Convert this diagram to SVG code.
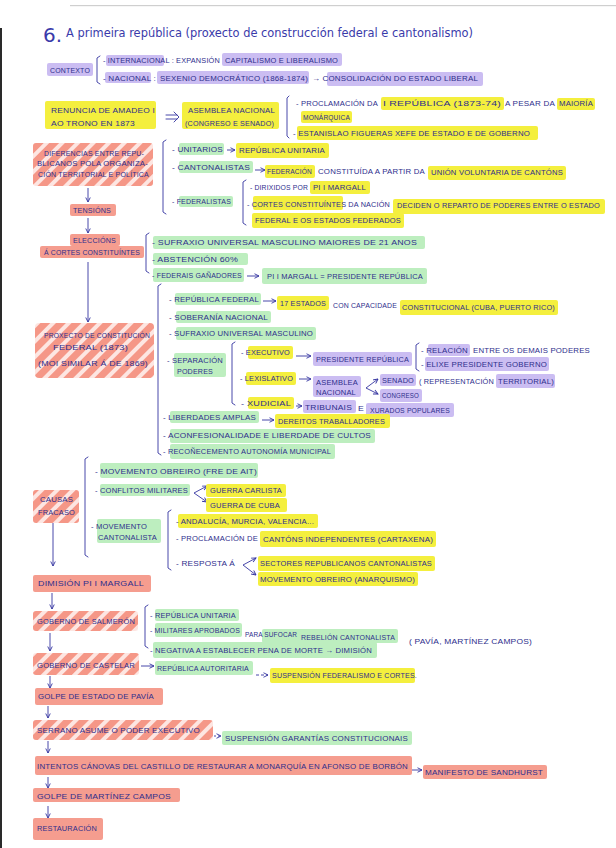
<svg xmlns="http://www.w3.org/2000/svg" width="616" height="848" viewBox="0 0 616 848">
<defs>
<style>
.t{font-family:"Liberation Sans",Arial,sans-serif;font-size:8px;fill:#2e2e8c;letter-spacing:0.2px}
.ti{font-family:"DejaVu Sans","Liberation Sans",sans-serif;fill:#3a3aaa}
.y{fill:#f4ef3e}
.g{fill:#bdeebf}
.p{fill:#cbbdf2}
.r{fill:#f59d8f}
.h{fill:url(#hatch)}
.ln{stroke:#3434a0;stroke-width:0.9;fill:none;stroke-linecap:round}
.ar{stroke:#3434a0;stroke-width:0.9;fill:none;marker-end:url(#ah)}
</style>
<pattern id="hatch" patternUnits="userSpaceOnUse" width="11" height="11" patternTransform="rotate(45)">
<rect width="11" height="11" fill="#f59787"/>
<rect x="0" y="0" width="4" height="11" fill="#fde6e2"/>
</pattern>
<marker id="ah" viewBox="0 0 8 8" refX="7" refY="4" markerWidth="6" markerHeight="6" orient="auto" markerUnits="userSpaceOnUse">
<path d="M1,1 L7,4 L1,7" fill="none" stroke="#3434a0" stroke-width="1.2"/>
</marker>
</defs>
<rect width="616" height="848" fill="#ffffff"/>
<rect x="70" y="5" width="546" height="1.2" fill="#cfcfcf"/>
<rect x="0" y="28" width="2" height="820" fill="#2a2a2a"/>

<g id="title">
<text class="ti" x="43" y="42" font-size="20">6.</text>
<text class="ti" x="66" y="37" font-size="13" textLength="407" lengthAdjust="spacingAndGlyphs">A primeira república (proxecto de construcción federal e cantonalismo)</text>
</g>

<g id="connectors">
<path class="ln" d="M100,56 L97,58 L97,82 L100,84"/>
<path class="ln" d="M289,96 L287,98 L287,136 L289,138"/>
<path class="ln" d="M166,140 L163,142 L163,212 L166,214"/>
<path class="ln" d="M246,180 L243,182 L243,223 L246,225"/>
<path class="ln" d="M149,233 L146,235 L146,271 L149,273"/>
<path class="ln" d="M161,284 L158,286 L158,453 L161,455"/>
<path class="ln" d="M235,342 L232,344 L232,403 L235,405"/>
<path class="ln" d="M419,343 L416,345 L416,369 L419,371"/>
<path class="ln" d="M88,457 L85,459 L85,555 L88,557"/>
<path class="ln" d="M171,510 L168,512 L168,568 L171,570"/>
<path class="ln" d="M148,605 L145,607 L145,646 L148,648"/>
<path class="ln" d="M166,115 L177,115 M166,119 L177,119 M174,112 L179,117 L174,122"/>
<path class="ar" d="M88,188 L88,202"/>
<path class="ar" d="M88,218 L88,233"/>
<path class="ar" d="M88,262 L88,322"/>
<path class="ar" d="M53,523 L53,566"/>
<path class="ar" d="M52,593 L52,609"/>
<path class="ar" d="M50,633 L50,651"/>
<path class="ar" d="M50,676 L50,688"/>
<path class="ar" d="M48,706 L48,718"/>
<path class="ar" d="M48,741 L48,753"/>
<path class="ar" d="M48,777 L48,788"/>
<path class="ar" d="M48,806 L48,818"/>
<path class="ar" d="M227,150 L235,150"/>
<path class="ar" d="M255,170 L265,170"/>
<path class="ar" d="M247,276 L259,276"/>
<path class="ar" d="M263,301 L276,301"/>
<path class="ar" d="M296,356 L311,356"/>
<path class="ar" d="M299,379 L311,379"/>
<path class="ar" d="M296,406 L302,406"/>
<path class="ar" d="M262,420 L274,420"/>
<path class="ar" d="M141,666 L154,666"/>
<path class="ar" d="M256,675 L268,675" stroke-dasharray="3,2"/>
<path class="ar" d="M206,736 L221,736" stroke-dasharray="2,2"/>
<path class="ar" d="M410,770 L422,770"/>
<path class="ar" d="M366,388 L378,379"/>
<path class="ar" d="M366,388 L378,394"/>
<path class="ar" d="M194,493 L207,486"/>
<path class="ar" d="M194,493 L207,502"/>
<path class="ar" d="M243,565 L256,558"/>
<path class="ar" d="M243,565 L256,575"/>
</g>

<g id="contexto">
<rect class="p" x="47" y="63" width="46" height="13" rx="2"/>
<text class="t" x="50" y="73" textLength="40" lengthAdjust="spacingAndGlyphs">CONTEXTO</text>
</g>
<g id="internacional">
<rect class="p" x="106" y="55" width="58" height="11" rx="2"/>
<rect class="p" x="222" y="53" width="120" height="13" rx="2"/>
<text class="t" x="103" y="63" textLength="117" lengthAdjust="spacingAndGlyphs">- INTERNACIONAL : EXPANSIÓN</text>
<text class="t" x="225" y="63" textLength="113" lengthAdjust="spacingAndGlyphs">CAPITALISMO E LIBERALISMO</text>
</g>
<g id="nacional">
<rect class="p" x="105" y="72" width="46" height="11" rx="2"/>
<rect class="p" x="157" y="71" width="152" height="13" rx="2"/>
<rect class="p" x="327" y="72" width="156" height="14" rx="2"/>
<text class="t" x="103" y="81" textLength="53" lengthAdjust="spacingAndGlyphs">- NACIONAL :</text>
<text class="t" x="160" y="81" textLength="148" lengthAdjust="spacingAndGlyphs">SEXENIO DEMOCRÁTICO (1868-1874)</text>
<text class="t" x="312" y="81" textLength="166" lengthAdjust="spacingAndGlyphs">→ CONSOLIDACIÓN DO ESTADO LIBERAL</text>
</g>

<g id="renuncia">
<rect class="y" x="45" y="101" width="111" height="28" rx="2"/>
<text class="t" x="51" y="113" textLength="104" lengthAdjust="spacingAndGlyphs">RENUNCIA DE AMADEO I</text>
<text class="t" x="51" y="126" textLength="84" lengthAdjust="spacingAndGlyphs">AO TRONO EN 1873</text>
</g>
<g id="asemblea">
<rect class="y" x="182" y="102" width="97" height="27" rx="2"/>
<text class="t" x="188" y="113" textLength="87" lengthAdjust="spacingAndGlyphs">ASEMBLEA NACIONAL</text>
<text class="t" x="185" y="126" textLength="89" lengthAdjust="spacingAndGlyphs">(CONGRESO E SENADO)</text>
</g>
<g id="proclamacion">
<rect class="y" x="381" y="97" width="123" height="13" rx="2"/>
<rect class="y" x="557" y="98" width="38" height="12" rx="2"/>
<rect class="y" x="301" y="111" width="51" height="12" rx="2"/>
<text class="t" x="296" y="106" textLength="82" lengthAdjust="spacingAndGlyphs">- PROCLAMACIÓN DA</text>
<text class="t" x="383" y="106" textLength="118" lengthAdjust="spacingAndGlyphs">I REPÚBLICA (1873-74)</text>
<text class="t" x="505" y="106" textLength="50" lengthAdjust="spacingAndGlyphs">A PESAR DA</text>
<text class="t" x="559" y="106" textLength="34" lengthAdjust="spacingAndGlyphs">MAIORÍA</text>
<text class="t" x="303" y="120" textLength="47" lengthAdjust="spacingAndGlyphs">MONÁRQUICA</text>
</g>
<g id="figueras">
<rect class="y" x="297" y="126" width="241" height="14" rx="2"/>
<text class="t" x="293" y="136" textLength="237" lengthAdjust="spacingAndGlyphs">- ESTANISLAO FIGUERAS XEFE DE ESTADO E DE GOBERNO</text>
</g>

<g id="diferencias">
<rect class="h" x="33" y="143" width="120" height="43" rx="3"/>
<text class="t" x="44" y="156" textLength="100" lengthAdjust="spacingAndGlyphs">DIFERENCIAS ENTRE REPU-</text>
<text class="t" x="37" y="166" textLength="111" lengthAdjust="spacingAndGlyphs">BLICANOS POLA ORGANIZA-</text>
<text class="t" x="38" y="177" textLength="111" lengthAdjust="spacingAndGlyphs">CIÓN TERRITORIAL E POLÍTICA</text>
</g>
<g id="unitarios">
<rect class="g" x="179" y="143" width="45" height="12" rx="2"/>
<rect class="y" x="236" y="143" width="93" height="15" rx="2"/>
<text class="t" x="172" y="152" textLength="51" lengthAdjust="spacingAndGlyphs">- UNITARIOS</text>
<text class="t" x="239" y="153" textLength="86" lengthAdjust="spacingAndGlyphs">REPÚBLICA UNITARIA</text>
</g>
<g id="cantonalistas">
<rect class="g" x="179" y="161" width="74" height="12" rx="2"/>
<rect class="y" x="265" y="165" width="50" height="13" rx="2"/>
<rect class="y" x="428" y="166" width="138" height="14" rx="2"/>
<text class="t" x="172" y="170" textLength="78" lengthAdjust="spacingAndGlyphs">- CANTONALISTAS</text>
<text class="t" x="267" y="174" textLength="45" lengthAdjust="spacingAndGlyphs">FEDERACIÓN</text>
<text class="t" x="318" y="174" textLength="107" lengthAdjust="spacingAndGlyphs">CONSTITUÍDA A PARTIR DA</text>
<text class="t" x="431" y="175" textLength="132" lengthAdjust="spacingAndGlyphs">UNIÓN VOLUNTARIA DE CANTÓNS</text>
</g>
<g id="federalistas">
<rect class="g" x="179" y="196" width="54" height="11" rx="2"/>
<text class="t" x="172" y="204" textLength="59" lengthAdjust="spacingAndGlyphs">- FEDERALISTAS</text>
<rect class="y" x="310" y="181" width="60" height="13" rx="2"/>
<text class="t" x="250" y="190" textLength="58" lengthAdjust="spacingAndGlyphs">- DIRIXIDOS POR</text>
<text class="t" x="313" y="190" textLength="53" lengthAdjust="spacingAndGlyphs">PI I MARGALL</text>
<rect class="y" x="253" y="196" width="90" height="14" rx="2"/>
<rect class="y" x="393" y="199" width="212" height="15" rx="2"/>
<rect class="y" x="252" y="213" width="152" height="15" rx="2"/>
<text class="t" x="247" y="207" textLength="143" lengthAdjust="spacingAndGlyphs">- CORTES CONSTITUÍNTES DA NACIÓN</text>
<text class="t" x="397" y="208" textLength="203" lengthAdjust="spacingAndGlyphs">DECIDEN O REPARTO DE PODERES ENTRE O ESTADO</text>
<text class="t" x="255" y="223" textLength="146" lengthAdjust="spacingAndGlyphs">FEDERAL E OS ESTADOS FEDERADOS</text>
</g>

<g id="tensions">
<rect class="r" x="70" y="204" width="46" height="12" rx="2"/>
<text class="t" x="73" y="213" textLength="38" lengthAdjust="spacingAndGlyphs">TENSIÓNS</text>
</g>
<g id="eleccions">
<rect class="r" x="70" y="234" width="50" height="12" rx="2"/>
<rect class="r" x="40" y="246" width="104" height="12" rx="2"/>
<text class="t" x="73" y="243" textLength="43" lengthAdjust="spacingAndGlyphs">ELECCIÓNS</text>
<text class="t" x="44" y="255" textLength="96" lengthAdjust="spacingAndGlyphs">Á CORTES CONSTITUÍNTES</text>
</g>
<g id="sufraxio21">
<rect class="g" x="153" y="236" width="272" height="13" rx="2"/>
<text class="t" x="152" y="245" textLength="265" lengthAdjust="spacingAndGlyphs">- SUFRAXIO UNIVERSAL MASCULINO MAIORES DE 21 ANOS</text>
</g>
<g id="abstencion">
<rect class="g" x="153" y="253" width="95" height="12" rx="2"/>
<text class="t" x="152" y="262" textLength="86" lengthAdjust="spacingAndGlyphs">- ABSTENCIÓN 60%</text>
</g>
<g id="federais">
<rect class="g" x="153" y="268" width="91" height="14" rx="2"/>
<rect class="g" x="262" y="268" width="165" height="16" rx="2"/>
<text class="t" x="152" y="278" textLength="90" lengthAdjust="spacingAndGlyphs">- FEDERAIS GAÑADORES</text>
<text class="t" x="267" y="279" textLength="156" lengthAdjust="spacingAndGlyphs">PI I MARGALL = PRESIDENTE REPÚBLICA</text>
</g>

<g id="proxecto">
<rect class="h" x="35" y="323" width="119" height="55" rx="4"/>
<text class="t" x="44" y="338" textLength="106" lengthAdjust="spacingAndGlyphs">PROXECTO DE CONSTITUCIÓN</text>
<text class="t" x="53" y="350" textLength="75" lengthAdjust="spacingAndGlyphs">FEDERAL (1873)</text>
<text class="t" x="38" y="366" textLength="110" lengthAdjust="spacingAndGlyphs">(MOI SIMILAR Á DE 1869)</text>
</g>
<g id="republicafederal">
<rect class="g" x="175" y="293" width="86" height="12" rx="2"/>
<rect class="y" x="277" y="296" width="52" height="14" rx="2"/>
<rect class="y" x="400" y="300" width="158" height="15" rx="2"/>
<text class="t" x="169" y="302" textLength="90" lengthAdjust="spacingAndGlyphs">- REPÚBLICA FEDERAL</text>
<text class="t" x="280" y="306" textLength="46" lengthAdjust="spacingAndGlyphs">17 ESTADOS</text>
<text class="t" x="333" y="308" textLength="64" lengthAdjust="spacingAndGlyphs">CON CAPACIDADE</text>
<text class="t" x="402" y="310" textLength="153" lengthAdjust="spacingAndGlyphs">CONSTITUCIONAL (CUBA, PUERTO RICO)</text>
</g>
<g id="soberania">
<rect class="g" x="176" y="311" width="95" height="12" rx="2"/>
<text class="t" x="169" y="320" textLength="99" lengthAdjust="spacingAndGlyphs">- SOBERANÍA NACIONAL</text>
</g>
<g id="sufraxio">
<rect class="g" x="176" y="327" width="140" height="13" rx="2"/>
<text class="t" x="169" y="336" textLength="144" lengthAdjust="spacingAndGlyphs">- SUFRAXIO UNIVERSAL MASCULINO</text>
</g>
<g id="separacion">
<rect class="g" x="174" y="353" width="52" height="24" rx="2"/>
<text class="t" x="167" y="363" textLength="56" lengthAdjust="spacingAndGlyphs">- SEPARACIÓN</text>
<text class="t" x="177" y="374" textLength="36" lengthAdjust="spacingAndGlyphs">PODERES</text>
</g>
<g id="executivo">
<rect class="y" x="248" y="346" width="45" height="13" rx="2"/>
<text class="t" x="241" y="355" textLength="49" lengthAdjust="spacingAndGlyphs">- EXECUTIVO</text>
<rect class="p" x="313" y="352" width="99" height="14" rx="2"/>
<text class="t" x="316" y="362" textLength="93" lengthAdjust="spacingAndGlyphs">PRESIDENTE REPÚBLICA</text>
<rect class="p" x="428" y="344" width="42" height="12" rx="2"/>
<text class="t" x="421" y="353" textLength="47" lengthAdjust="spacingAndGlyphs">- RELACIÓN</text>
<text class="t" x="473" y="353" textLength="117" lengthAdjust="spacingAndGlyphs">ENTRE OS DEMAIS PODERES</text>
<rect class="p" x="425" y="357" width="124" height="14" rx="2"/>
<text class="t" x="421" y="367" textLength="126" lengthAdjust="spacingAndGlyphs">- ELIXE PRESIDENTE GOBERNO</text>
</g>
<g id="lexislativo">
<rect class="y" x="246" y="372" width="50" height="13" rx="2"/>
<text class="t" x="240" y="381" textLength="53" lengthAdjust="spacingAndGlyphs">- LEXISLATIVO</text>
<rect class="p" x="313" y="376" width="48" height="21" rx="2"/>
<text class="t" x="316" y="385" textLength="42" lengthAdjust="spacingAndGlyphs">ASEMBLEA</text>
<text class="t" x="316" y="395" textLength="40" lengthAdjust="spacingAndGlyphs">NACIONAL</text>
<rect class="p" x="380" y="374" width="36" height="12" rx="2"/>
<text class="t" x="382" y="383" textLength="32" lengthAdjust="spacingAndGlyphs">SENADO</text>
<rect class="p" x="496" y="374" width="59" height="14" rx="2"/>
<text class="t" x="419" y="384" textLength="75" lengthAdjust="spacingAndGlyphs">( REPRESENTACIÓN</text>
<text class="t" x="498" y="384" textLength="56" lengthAdjust="spacingAndGlyphs">TERRITORIAL)</text>
<rect class="p" x="380" y="389" width="42" height="13" rx="2"/>
<text class="t" x="382" y="398" textLength="37" lengthAdjust="spacingAndGlyphs">CONGRESO</text>
</g>
<g id="xudicial">
<rect class="y" x="248" y="397" width="46" height="12" rx="2"/>
<text class="t" x="241" y="406" textLength="50" lengthAdjust="spacingAndGlyphs">- XUDICIAL</text>
<rect class="p" x="303" y="400" width="53" height="13" rx="2"/>
<rect class="p" x="366" y="403" width="88" height="14" rx="2"/>
<text class="t" x="305" y="410" textLength="47" lengthAdjust="spacingAndGlyphs">TRIBUNAIS</text>
<text class="t" x="358" y="411" textLength="6" lengthAdjust="spacingAndGlyphs">E</text>
<text class="t" x="370" y="413" textLength="80" lengthAdjust="spacingAndGlyphs">XURADOS POPULARES</text>
</g>
<g id="liberdades">
<rect class="g" x="170" y="411" width="89" height="12" rx="2"/>
<rect class="y" x="275" y="414" width="115" height="14" rx="2"/>
<text class="t" x="163" y="420" textLength="93" lengthAdjust="spacingAndGlyphs">- LIBERDADES AMPLAS</text>
<text class="t" x="278" y="424" textLength="107" lengthAdjust="spacingAndGlyphs">DEREITOS TRABALLADORES</text>
</g>
<g id="aconfesionalidade">
<rect class="g" x="170" y="429" width="205" height="14" rx="2"/>
<text class="t" x="163" y="438" textLength="208" lengthAdjust="spacingAndGlyphs">- ACONFESIONALIDADE E LIBERDADE DE CULTOS</text>
</g>
<g id="autonomia">
<rect class="g" x="170" y="444" width="165" height="15" rx="2"/>
<text class="t" x="163" y="454" textLength="168" lengthAdjust="spacingAndGlyphs">- RECOÑECEMENTO AUTONOMÍA MUNICIPAL</text>
</g>

<g id="causas">
<rect class="h" x="33" y="490" width="46" height="33" rx="3"/>
<text class="t" x="40" y="502" textLength="33" lengthAdjust="spacingAndGlyphs">CAUSAS</text>
<text class="t" x="38" y="515" textLength="37" lengthAdjust="spacingAndGlyphs">FRACASO</text>
</g>
<g id="movobreiro">
<rect class="g" x="100" y="463" width="158" height="15" rx="2"/>
<text class="t" x="95" y="474" textLength="162" lengthAdjust="spacingAndGlyphs">- MOVEMENTO OBREIRO (FRE DE AIT)</text>
</g>
<g id="conflitos">
<rect class="g" x="100" y="484" width="90" height="12" rx="2"/>
<text class="t" x="95" y="493" textLength="93" lengthAdjust="spacingAndGlyphs">- CONFLITOS MILITARES</text>
<rect class="y" x="206" y="484" width="80" height="13" rx="2"/>
<text class="t" x="210" y="493" textLength="72" lengthAdjust="spacingAndGlyphs">GUERRA CARLISTA</text>
<rect class="y" x="206" y="498" width="81" height="14" rx="2"/>
<text class="t" x="210" y="508" textLength="70" lengthAdjust="spacingAndGlyphs">GUERRA DE CUBA</text>
</g>
<g id="movcantonalista">
<rect class="g" x="97" y="519" width="64" height="24" rx="2"/>
<text class="t" x="91" y="529" textLength="56" lengthAdjust="spacingAndGlyphs">- MOVEMENTO</text>
<text class="t" x="98" y="540" textLength="59" lengthAdjust="spacingAndGlyphs">CANTONALISTA</text>
<rect class="y" x="178" y="514" width="140" height="14" rx="2"/>
<text class="t" x="176" y="524" textLength="138" lengthAdjust="spacingAndGlyphs">- ANDALUCÍA, MURCIA, VALENCIA...</text>
<rect class="y" x="260" y="531" width="176" height="16" rx="2"/>
<text class="t" x="176" y="541" textLength="82" lengthAdjust="spacingAndGlyphs">- PROCLAMACIÓN DE</text>
<text class="t" x="263" y="542" textLength="170" lengthAdjust="spacingAndGlyphs">CANTÓNS INDEPENDENTES (CARTAXENA)</text>
<text class="t" x="176" y="566" textLength="59" lengthAdjust="spacingAndGlyphs">- RESPOSTA Á</text>
<rect class="y" x="258" y="556" width="177" height="15" rx="2"/>
<text class="t" x="260" y="566" textLength="172" lengthAdjust="spacingAndGlyphs">SECTORES REPUBLICANOS CANTONALISTAS</text>
<rect class="y" x="258" y="572" width="160" height="14" rx="2"/>
<text class="t" x="260" y="582" textLength="155" lengthAdjust="spacingAndGlyphs">MOVEMENTO OBREIRO (ANARQUISMO)</text>
</g>

<g id="dimision">
<rect class="r" x="33" y="575" width="118" height="17" rx="2"/>
<text class="t" x="38" y="586" textLength="106" lengthAdjust="spacingAndGlyphs">DIMISIÓN PI I MARGALL</text>
</g>
<g id="salmeron">
<rect class="h" x="33" y="611" width="105" height="20" rx="3"/>
<text class="t" x="37" y="624" textLength="98" lengthAdjust="spacingAndGlyphs">GOBERNO DE SALMERÓN</text>
<rect class="g" x="155" y="609" width="84" height="12" rx="2"/>
<text class="t" x="150" y="618" textLength="86" lengthAdjust="spacingAndGlyphs">- REPÚBLICA UNITARIA</text>
<rect class="g" x="155" y="623" width="87" height="14" rx="2"/>
<rect class="g" x="262" y="629" width="136" height="14" rx="2"/>
<text class="t" x="150" y="633" textLength="90" lengthAdjust="spacingAndGlyphs">- MILITARES APROBADOS</text>
<text class="t" x="245" y="637" textLength="52" lengthAdjust="spacingAndGlyphs">PARA SUFOCAR</text>
<text class="t" x="301" y="640" textLength="94" lengthAdjust="spacingAndGlyphs">REBELIÓN CANTONALISTA</text>
<text class="t" x="409" y="644" textLength="123" lengthAdjust="spacingAndGlyphs">( PAVÍA, MARTÍNEZ CAMPOS)</text>
<rect class="g" x="153" y="642" width="224" height="16" rx="2"/>
<text class="t" x="150" y="653" textLength="222" lengthAdjust="spacingAndGlyphs">- NEGATIVA A ESTABLECER PENA DE MORTE → DIMISIÓN</text>
</g>
<g id="castelar">
<rect class="h" x="33" y="653" width="106" height="22" rx="3"/>
<text class="t" x="37" y="668" textLength="98" lengthAdjust="spacingAndGlyphs">GOBERNO DE CASTELAR</text>
<rect class="g" x="155" y="661" width="98" height="14" rx="2"/>
<text class="t" x="157" y="671" textLength="92" lengthAdjust="spacingAndGlyphs">REPÚBLICA AUTORITARIA</text>
<rect class="y" x="270" y="668" width="145" height="15" rx="2"/>
<text class="t" x="272" y="678" textLength="145" lengthAdjust="spacingAndGlyphs">SUSPENSIÓN FEDERALISMO E CORTES.</text>
</g>
<g id="pavia">
<rect class="r" x="35" y="688" width="128" height="17" rx="2"/>
<text class="t" x="38" y="699" textLength="116" lengthAdjust="spacingAndGlyphs">GOLPE DE ESTADO DE PAVÍA</text>
</g>
<g id="serrano">
<rect class="h" x="33" y="720" width="180" height="20" rx="3"/>
<text class="t" x="37" y="733" textLength="163" lengthAdjust="spacingAndGlyphs">SERRANO ASUME O PODER EXECUTIVO</text>
<rect class="g" x="222" y="731" width="190" height="14" rx="2"/>
<text class="t" x="225" y="741" textLength="183" lengthAdjust="spacingAndGlyphs">SUSPENSIÓN GARANTÍAS CONSTITUCIONAIS</text>
</g>
<g id="canovas">
<rect class="r" x="35" y="756" width="377" height="19" rx="2"/>
<text class="t" x="37" y="769" textLength="371" lengthAdjust="spacingAndGlyphs">INTENTOS CÁNOVAS DEL CASTILLO DE RESTAURAR A MONARQUÍA EN AFONSO DE BORBÓN</text>
<rect class="r" x="423" y="765" width="124" height="14" rx="2"/>
<text class="t" x="425" y="775" textLength="118" lengthAdjust="spacingAndGlyphs">MANIFESTO DE SANDHURST</text>
</g>
<g id="martinezcampos">
<rect class="r" x="33" y="788" width="147" height="14" rx="2"/>
<text class="t" x="37" y="799" textLength="134" lengthAdjust="spacingAndGlyphs">GOLPE DE MARTÍNEZ CAMPOS</text>
</g>
<g id="restauracion">
<rect class="r" x="33" y="818" width="70" height="22" rx="2"/>
<text class="t" x="37" y="831" textLength="60" lengthAdjust="spacingAndGlyphs">RESTAURACIÓN</text>
</g>
</svg>
